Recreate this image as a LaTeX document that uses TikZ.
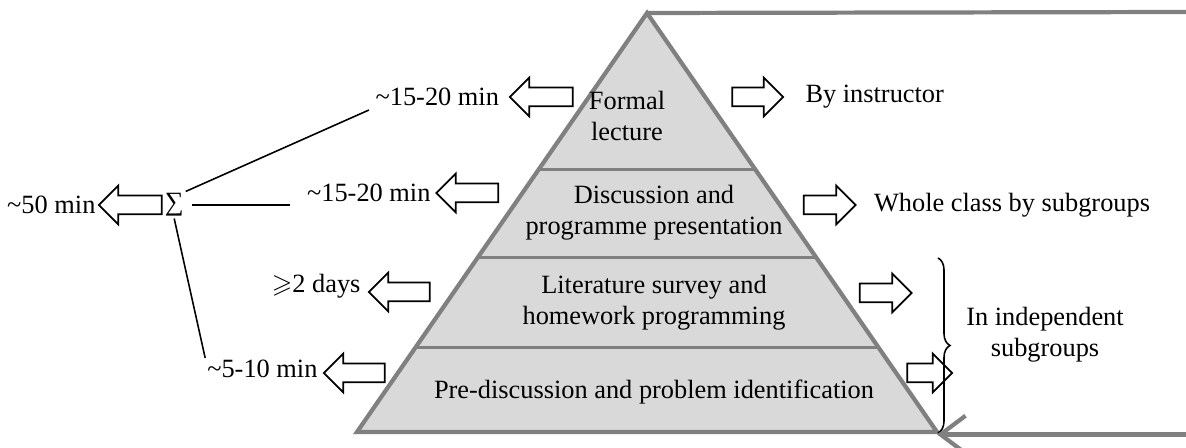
\documentclass[tikz,border=0pt]{standalone}
\usepackage{amsmath}
\usepackage{amssymb}
\usepackage{fontspec}
\setmainfont{Liberation Serif}
\usetikzlibrary{positioning,shapes.arrows,arrows.meta,decorations.pathreplacing}

\begin{document}
\begin{tikzpicture}[
        every node/.style={font=\fontsize{15}{17.5}\selectfont},
        tier/.style={fill=gray!30},
        divider/.style={draw=gray, line width=1.7pt},
        outline/.style={draw=gray, line width=2.4pt},
        hollowarrow/.style={shape=single arrow, draw, line width=1pt, inner sep=0.17cm,
            single arrow head extend=0.2cm, minimum height=#1},
        larrow/.style={hollowarrow=#1, shape border rotate=180},
        rarrow/.style={hollowarrow=#1},
        lbl/.style={inner sep=1pt},
        link/.style={line width=0.9pt}
    ]
        \useasboundingbox (0, 0) rectangle (23.72, 8.96);

        % Corners of the pyramid
        \coordinate (apex) at (12.94, 8.70);
        \coordinate (bl) at (7.14, 0.32);
        \coordinate (br) at (18.74, 0.32);

        % Fill the pyramid and draw the lines between the levels
        \fill[tier] (bl) -- (apex) -- (br) -- cycle;
        \foreach \y in {5.56, 3.80, 2.00} {
            \draw[divider] ({12.94-0.692*(8.70-\y)}, \y) -- ({12.94+0.692*(8.70-\y)}, \y);
        }
        \draw[outline] (bl) -- (apex) -- (br) -- cycle;

        % Text of the levels
        \node[align=center] (lec) at (12.54, 6.64) {Formal\\lecture};
        \node[align=center] (disc) at (13.08, 4.70) {Discussion and\\programme presentation};
        \node[align=center] (lit) at (13.08, 2.90) {Literature survey and\\homework programming};
        \node (pre) at (13.08, 1.12) {Pre-discussion and problem identification};

        % Arrows and times on the left
        \node[larrow=1.26cm] (la1) at (10.92, 7.02) {};
        \node[larrow=1.24cm] (la2) at (9.44, 5.10) {};
        \node[larrow=1.22cm] (la3) at (8.08, 3.12) {};
        \node[larrow=1.22cm] (la4) at (7.18, 1.50) {};
        \node[lbl, left=0.15cm of la1] (t1) {\textasciitilde15-20 min};
        \node[lbl, left=0.05cm of la2] (t2) {\textasciitilde15-20 min};
        \node[lbl, left=0.1cm of la3, yshift=0.12cm] (t3) {$\geqslant$2 days};
        \node[lbl, left=0.06cm of la4, yshift=0.08cm] (t4) {\textasciitilde5-10 min};

        % Sum of the times
        \node[larrow=1.26cm] (sa) at (2.70, 4.86) {};
        \node[lbl, left=0cm of sa] (total) {\textasciitilde50 min};
        \node[lbl, right=0cm of sa] (sum) {∑};
        \draw[link, shorten >=0.1cm] (sum.north east) -- (t1.south west);
        \draw[link, shorten <=0.12cm, shorten >=0.3cm] (sum.east) -- (sum.east -| t2.west);
        \draw[link] (sum.south) -- (t4.north west);

        % Arrows and groups on the right
        \node[rarrow=1.02cm] (ra1) at (15.06, 7.02) {};
        \node[rarrow=1.04cm] (ra2) at (16.50, 4.86) {};
        \node[rarrow=1.04cm] (ra3) at (17.62, 3.10) {};
        \node[rarrow=0.9cm] (ra4) at (18.50, 1.50) {};
        \node[lbl, right=0.38cm of ra1] (who1) {By instructor};
        \node[lbl, right=0.3cm of ra2] (who2) {Whole class by subgroups};
        \draw[decorate, decoration={brace, amplitude=0.24cm}, line width=0.9pt] (18.76, 3.80) -- (18.76, 0.30);
        \node[align=center] (who3) at (20.90, 2.26) {In independent\\subgroups};

        % Grey loop from the top back to the base
        \coordinate (tr) at (23.9, 8.72);
        \coordinate (rr) at (23.9, 0.27);
        \draw[outline] (apex) -- (tr);
        \draw[outline, -{Straight Barb[length=0.5cm, width=0.75cm]}] (rr) -- (br |- rr);
    \end{tikzpicture}
\end{document}
